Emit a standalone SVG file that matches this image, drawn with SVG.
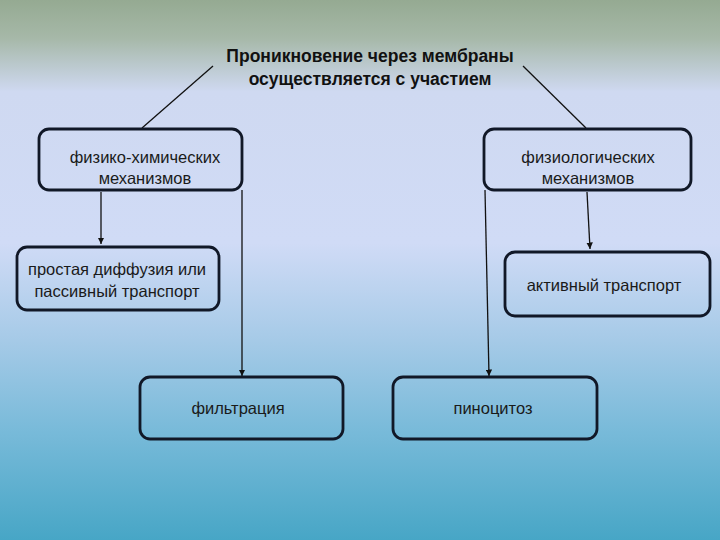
<svg xmlns="http://www.w3.org/2000/svg" width="720" height="540" viewBox="0 0 720 540">
<defs>
<linearGradient id="bg" x1="0" y1="0" x2="0" y2="1">
<stop offset="0" stop-color="#95aa92"/>
<stop offset="0.07" stop-color="#a6b8a8"/>
<stop offset="0.17" stop-color="#cfd9f1"/>
<stop offset="0.45" stop-color="#d0dbf6"/>
<stop offset="0.62" stop-color="#a8cbe8"/>
<stop offset="0.8" stop-color="#78bad9"/>
<stop offset="1" stop-color="#47a6c6"/>
</linearGradient>
<marker id="arr" viewBox="0 0 10 10" refX="10" refY="5" markerWidth="5" markerHeight="5" orient="auto">
<path d="M0,0 L10,5 L0,10 z" fill="#111"/>
</marker>
</defs>
<style>
.box{fill:none;stroke:#111827;stroke-width:2.8}
.t{font-family:"Liberation Sans","DejaVu Sans",sans-serif;font-size:16.5px;fill:#1a1a1a;text-anchor:middle}
.title{font-family:"Liberation Sans","DejaVu Sans",sans-serif;font-size:17.5px;font-weight:bold;fill:#111;text-anchor:middle}
.c{stroke:#111;stroke-width:1.3;fill:none}
</style>
<rect x="0" y="0" width="720" height="540" fill="url(#bg)"/>
<g id="title">
<text class="title" x="370" y="62">Проникновение через мембраны</text>
<text class="title" x="370" y="85">осуществляется с участием</text>
</g>
<g id="connectors">
<line class="c" x1="213" y1="66" x2="142" y2="128"/>
<line class="c" x1="523" y1="66" x2="586" y2="128"/>
<line class="c" x1="101" y1="192" x2="101" y2="244" marker-end="url(#arr)"/>
<line class="c" x1="242" y1="190" x2="242" y2="376" marker-end="url(#arr)"/>
<line class="c" x1="587" y1="192" x2="590" y2="249" marker-end="url(#arr)"/>
<line class="c" x1="485" y1="190" x2="489" y2="376" marker-end="url(#arr)"/>
</g>
<g id="n1">
<rect class="box" x="39" y="129" width="203" height="61" rx="10"/>
<text class="t" x="145" y="163">физико-химических</text>
<text class="t" x="145" y="184">механизмов</text>
</g>
<g id="n2">
<rect class="box" x="484" y="129" width="207" height="61" rx="10"/>
<text class="t" x="588" y="163">физиологических</text>
<text class="t" x="588" y="184">механизмов</text>
</g>
<g id="n3">
<rect class="box" x="17" y="247" width="202" height="63" rx="10"/>
<text class="t" x="117" y="275">простая диффузия или</text>
<text class="t" x="117" y="297">пассивный транспорт</text>
</g>
<g id="n4">
<rect class="box" x="505" y="252" width="205" height="64" rx="10"/>
<text class="t" x="604" y="291">активный транспорт</text>
</g>
<g id="n5">
<rect class="box" x="140" y="377" width="203" height="62" rx="10"/>
<text class="t" x="238" y="414">фильтрация</text>
</g>
<g id="n6">
<rect class="box" x="393" y="377" width="204" height="62" rx="10"/>
<text class="t" x="493" y="414">пиноцитоз</text>
</g>
</svg>
